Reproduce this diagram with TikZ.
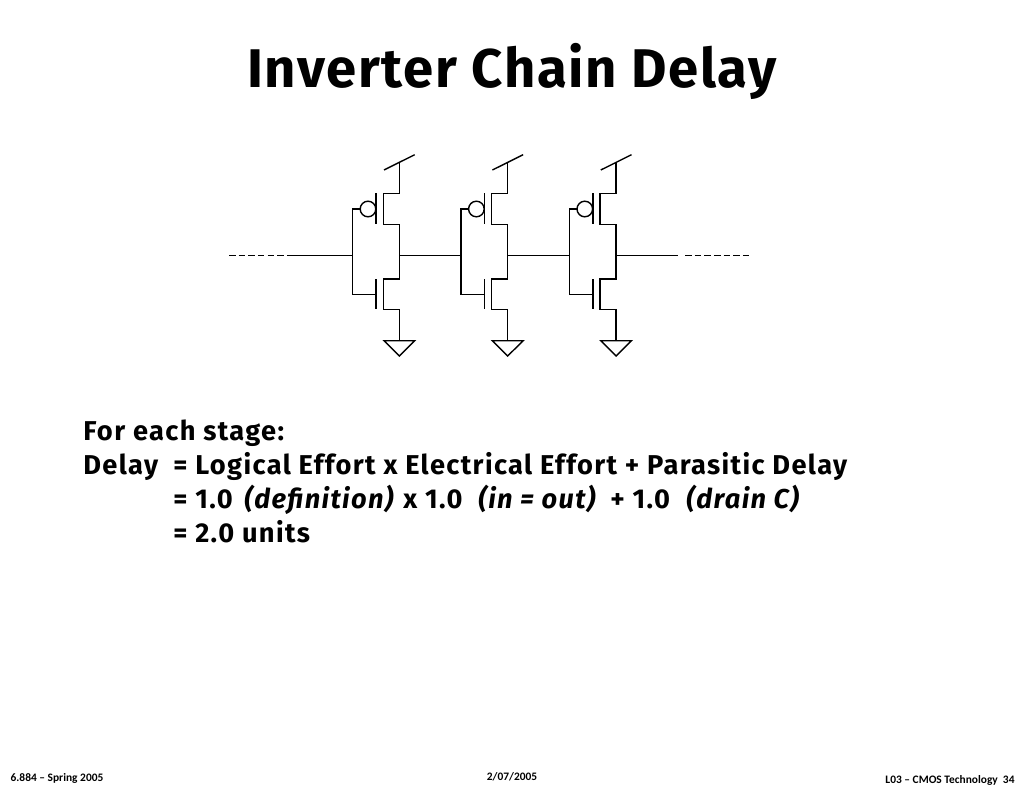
\documentclass[tikz,border=0pt]{standalone}
\usepackage{fontspec}
\setmainfont{Fira Sans}
\newfontfamily\footfont{Carlito}
\newfontfamily\bodyfont[LetterSpace=5]{Fira Sans}
\newfontfamily\titlefont[LetterSpace=3]{Fira Sans}
\tikzset{
  wire/.style = {line width = .8pt},
  dashwire/.style = {wire, dash pattern = on 3.7pt off 1.8pt},
  titletext/.style = {anchor = base, font = \fontsize{31}{31}\selectfont\titlefont\bfseries},
  bodytext/.style = {anchor = base west, inner xsep = 0, font = \fontsize{15.5}{15.5}\selectfont\bodyfont\bfseries},
  foottext/.style = {anchor = base, font = \fontsize{6.5}{6.5}\selectfont\footfont\bfseries}
}
\begin{document}
\begin{tikzpicture}[x=.02cm,y=-.02cm]
  \useasboundingbox (0,0) rectangle (1024,791);
  \node (title) at (512,87) [titletext] {Inverter Chain Delay};

  \foreach \i/\x in {1/399.3, 2/507.7, 3/616.1} {
    \coordinate (out\i) at (\x,255.3);
    \coordinate (in\i) at (\x-46.6,255.3);
    \coordinate (vdd\i) at (\x,163);
    \coordinate (gnd\i) at (\x,340.7);
    \draw [wire] (\x-15.3,170) -- (\x+15.4,154.7);
    \draw [wire] (vdd\i) -- (\x,193.3) -- (\x-16,193.3) -- (\x-16,224.4) -- (\x,224.4) -- (\x,279) -- (\x-16,279) -- (\x-16,309.4) -- (\x,309.4) -- (gnd\i);
    \draw [wire] (\x-23.3,193.3) -- (\x-23.3,224.4);
    \draw [wire] (\x-23.3,279) -- (\x-23.3,309.4);
    \draw [wire] (\x-31.3,209) circle [radius = 7.8];
    \draw [wire] (\x-39.1,209) -- (in\i |- 0,209) -- (in\i |- 0,294.3) -- (\x-23.3,294.3);
    \draw [wire] (\x-15.3,340.7) -- (\x+15.4,340.7) -- (\x,356) -- cycle;
  }
  \coordinate (leftend) at (229,255.3);
  \coordinate (leftjoin) at (290,255.3);
  \coordinate (rightjoin) at (678,255.3);
  \coordinate (rightgap) at (685,255.3);
  \coordinate (rightend) at (749,255.3);
  \draw [wire] (leftjoin) -- (in1);
  \draw [wire] (out1) -- (in2);
  \draw [wire] (out2) -- (in3);
  \draw [wire] (out3) -- (rightjoin);
  \draw [dashwire] (leftend) -- (leftjoin);
  \draw [dashwire] (rightgap) -- (rightend);

  \node (stage) at (83,440) [bodytext] {For each stage:};
  \node (delay) at (83,474) [bodytext] {Delay};
  \node (line1) at (173,474) [bodytext] {= Logical Effort x Electrical Effort + Parasitic Delay};
  \node (line2a) at (173,508) [bodytext] {= 1.0};
  \node (line2b) at (244,508) [bodytext] {\textit{(definition)}};
  \node (line2c) at (403,508) [bodytext] {x 1.0};
  \node (line2d) at (478,508) [bodytext] {\textit{(in = out)}};
  \node (line2e) at (610,508) [bodytext] {+ 1.0};
  \node (line2f) at (686,508) [bodytext] {\textit{(drain C)}};
  \node (line3) at (173,542) [bodytext] {= 2.0 units};

  \node (footl) at (57,781) [foottext] {6.884 – Spring 2005};
  \node (footm) at (512,780) [foottext] {2/07/2005};
  \node (footr) at (950,783) [foottext] {L03 – CMOS Technology\ \ 34};
\end{tikzpicture}
\end{document}
